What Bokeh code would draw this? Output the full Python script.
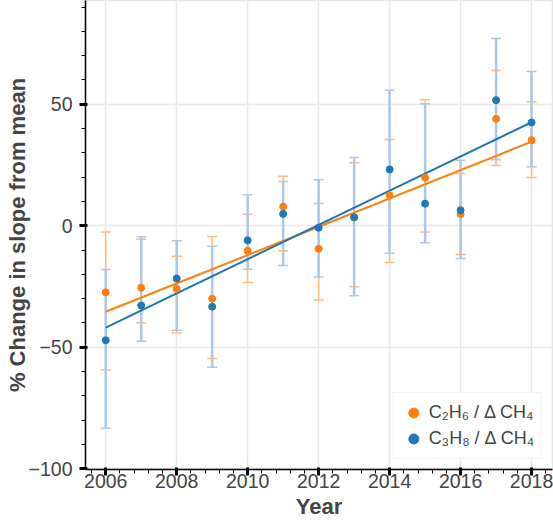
from bokeh.plotting import figure
from bokeh.models import (ColumnDataSource, Whisker, TeeHead, Range1d,
                          SingleIntervalTicker, Legend, LegendItem)
from bokeh.embed import file_html
from bokeh.resources import INLINE

# ---- data ----
years = [2006, 2007, 2008, 2009, 2010, 2011, 2012, 2013, 2014, 2015, 2016, 2017, 2018]

c2h6 = [-27.4, -25.5, -25.9, -30.0, -10.3, 7.9, -9.5, 3.5, 12.6, 19.8, 4.8, 44.0, 35.2]
c2h6_lower = [-59.4, -39.9, -44.0, -54.6, -23.3, -10.3, -30.5, -25.1, -15.1, -2.6, -11.8, 24.8, 19.9]
c2h6_upper = [-2.6, -5.6, -12.5, -4.4, 4.7, 20.4, 9.2, 25.9, 35.5, 51.9, 21.5, 63.9, 51.0]

c3h8 = [-47.1, -32.8, -21.7, -33.3, -6.0, 4.9, -0.8, 3.5, 23.2, 9.1, 6.4, 51.7, 42.5]
c3h8_lower = [-83.3, -47.5, -43.0, -58.2, -17.9, -16.3, -21.1, -28.8, -11.3, -7.0, -13.5, 27.2, 24.3]
c3h8_upper = [-18.0, -4.5, -6.2, -8.4, 12.8, 18.2, 18.9, 28.1, 55.8, 50.2, 27.0, 77.1, 63.5]

fit_years = [2006, 2018]
fit_c2h6 = [-35.4, 34.6]
fit_c3h8 = [-41.9, 42.6]

y_tick_values = [-100, -50, 0, 50]
y_tick_labels = ["\u2212100", "\u221250", "0", "50"]

label_c2h6 = "C\u2082H\u2086 / \u0394 CH\u2084"
label_c3h8 = "C\u2083H\u2088 / \u0394 CH\u2084"
x_title = "Year"
y_title = "% Change in slope from mean"

ORANGE = "#ff7f0e"
BLUE = "#1f77b4"
ORANGE_LIGHT = "#ffbb78"
BLUE_LIGHT = "#aec7e8"
FONT = "Liberation Sans"
TXT = "#444444"

src2 = ColumnDataSource(dict(x=years, y=c2h6, lower=c2h6_lower, upper=c2h6_upper))
src3 = ColumnDataSource(dict(x=years, y=c3h8, lower=c3h8_lower, upper=c3h8_upper))

p = figure(width=553, height=522,
           x_range=Range1d(2005.43, 2018.59), y_range=Range1d(-100.3, 92.7),
           output_backend="svg", toolbar_location=None,
           min_border_left=85, min_border_right=1, min_border_top=0, min_border_bottom=53)

p.outline_line_color = "#e6e6e6"
p.outline_line_width = 1.5
p.background_fill_color = "white"
p.border_fill_color = "white"

p.xaxis.ticker = SingleIntervalTicker(interval=2, num_minor_ticks=5)
p.yaxis.ticker = SingleIntervalTicker(interval=50, num_minor_ticks=5)
p.yaxis.major_label_overrides = dict(zip(y_tick_values, y_tick_labels))

for ax in (p.xaxis[0], p.yaxis[0]):
    ax.axis_line_color = "black"
    ax.axis_line_width = 1.5
    ax.major_tick_line_color = "black"
    ax.major_tick_line_width = 3
    ax.major_tick_in = 2
    ax.major_tick_out = 6
    ax.minor_tick_line_color = "black"
    ax.minor_tick_line_width = 1
    ax.minor_tick_in = 0
    ax.minor_tick_out = 4
    ax.major_label_text_font = FONT
    ax.major_label_text_font_size = "19.5px"
    ax.major_label_text_color = TXT
    ax.axis_label_text_font = FONT
    ax.axis_label_text_font_size = "22px"
    ax.axis_label_text_font_style = "bold"
    ax.axis_label_text_color = TXT

p.xaxis.axis_label = x_title
p.yaxis.axis_label = y_title
p.xaxis.major_label_standoff = -2
p.xaxis.axis_label_standoff = 3
p.yaxis.major_label_standoff = 7
p.yaxis.axis_label_standoff = -4

p.xgrid.grid_line_color = "#e8e8e8"
p.ygrid.grid_line_color = "#e8e8e8"
p.xgrid.grid_line_width = 1.5
p.ygrid.grid_line_width = 1.5

w2 = Whisker(source=src2, base="x", lower="lower", upper="upper",
             line_color=ORANGE_LIGHT, line_width=1.5,
             upper_head=TeeHead(size=10, line_color=ORANGE_LIGHT, line_width=1.5),
             lower_head=TeeHead(size=10, line_color=ORANGE_LIGHT, line_width=1.5))
w3 = Whisker(source=src3, base="x", lower="lower", upper="upper",
             line_color=BLUE_LIGHT, line_width=2.5,
             upper_head=TeeHead(size=10, line_color=BLUE_LIGHT, line_width=1.5),
             lower_head=TeeHead(size=10, line_color=BLUE_LIGHT, line_width=1.5))
p.add_layout(w2)
p.add_layout(w3)

p.line(fit_years, fit_c2h6, line_color=ORANGE, line_width=2)
p.line(fit_years, fit_c3h8, line_color=BLUE, line_width=2)

r2 = p.scatter("x", "y", source=src2, size=7, color=ORANGE)
r3 = p.scatter("x", "y", source=src3, size=7, color=BLUE)

legend = Legend(items=[LegendItem(label=label_c2h6, renderers=[r2]),
                       LegendItem(label=label_c3h8, renderers=[r3])],
                location="bottom_right")
legend.label_text_font = FONT
legend.label_text_font_size = "18px"
legend.label_text_color = TXT
legend.glyph_height = 25
legend.glyph_width = 25
legend.spacing = 1
legend.padding = 7
legend.margin = 10
legend.label_standoff = 3
legend.border_line_color = "#e5e5e5"
legend.border_line_width = 1.5
legend.background_fill_color = "white"
legend.background_fill_alpha = 1.0
p.add_layout(legend)

open("out.html", "w").write(file_html(p, INLINE))
